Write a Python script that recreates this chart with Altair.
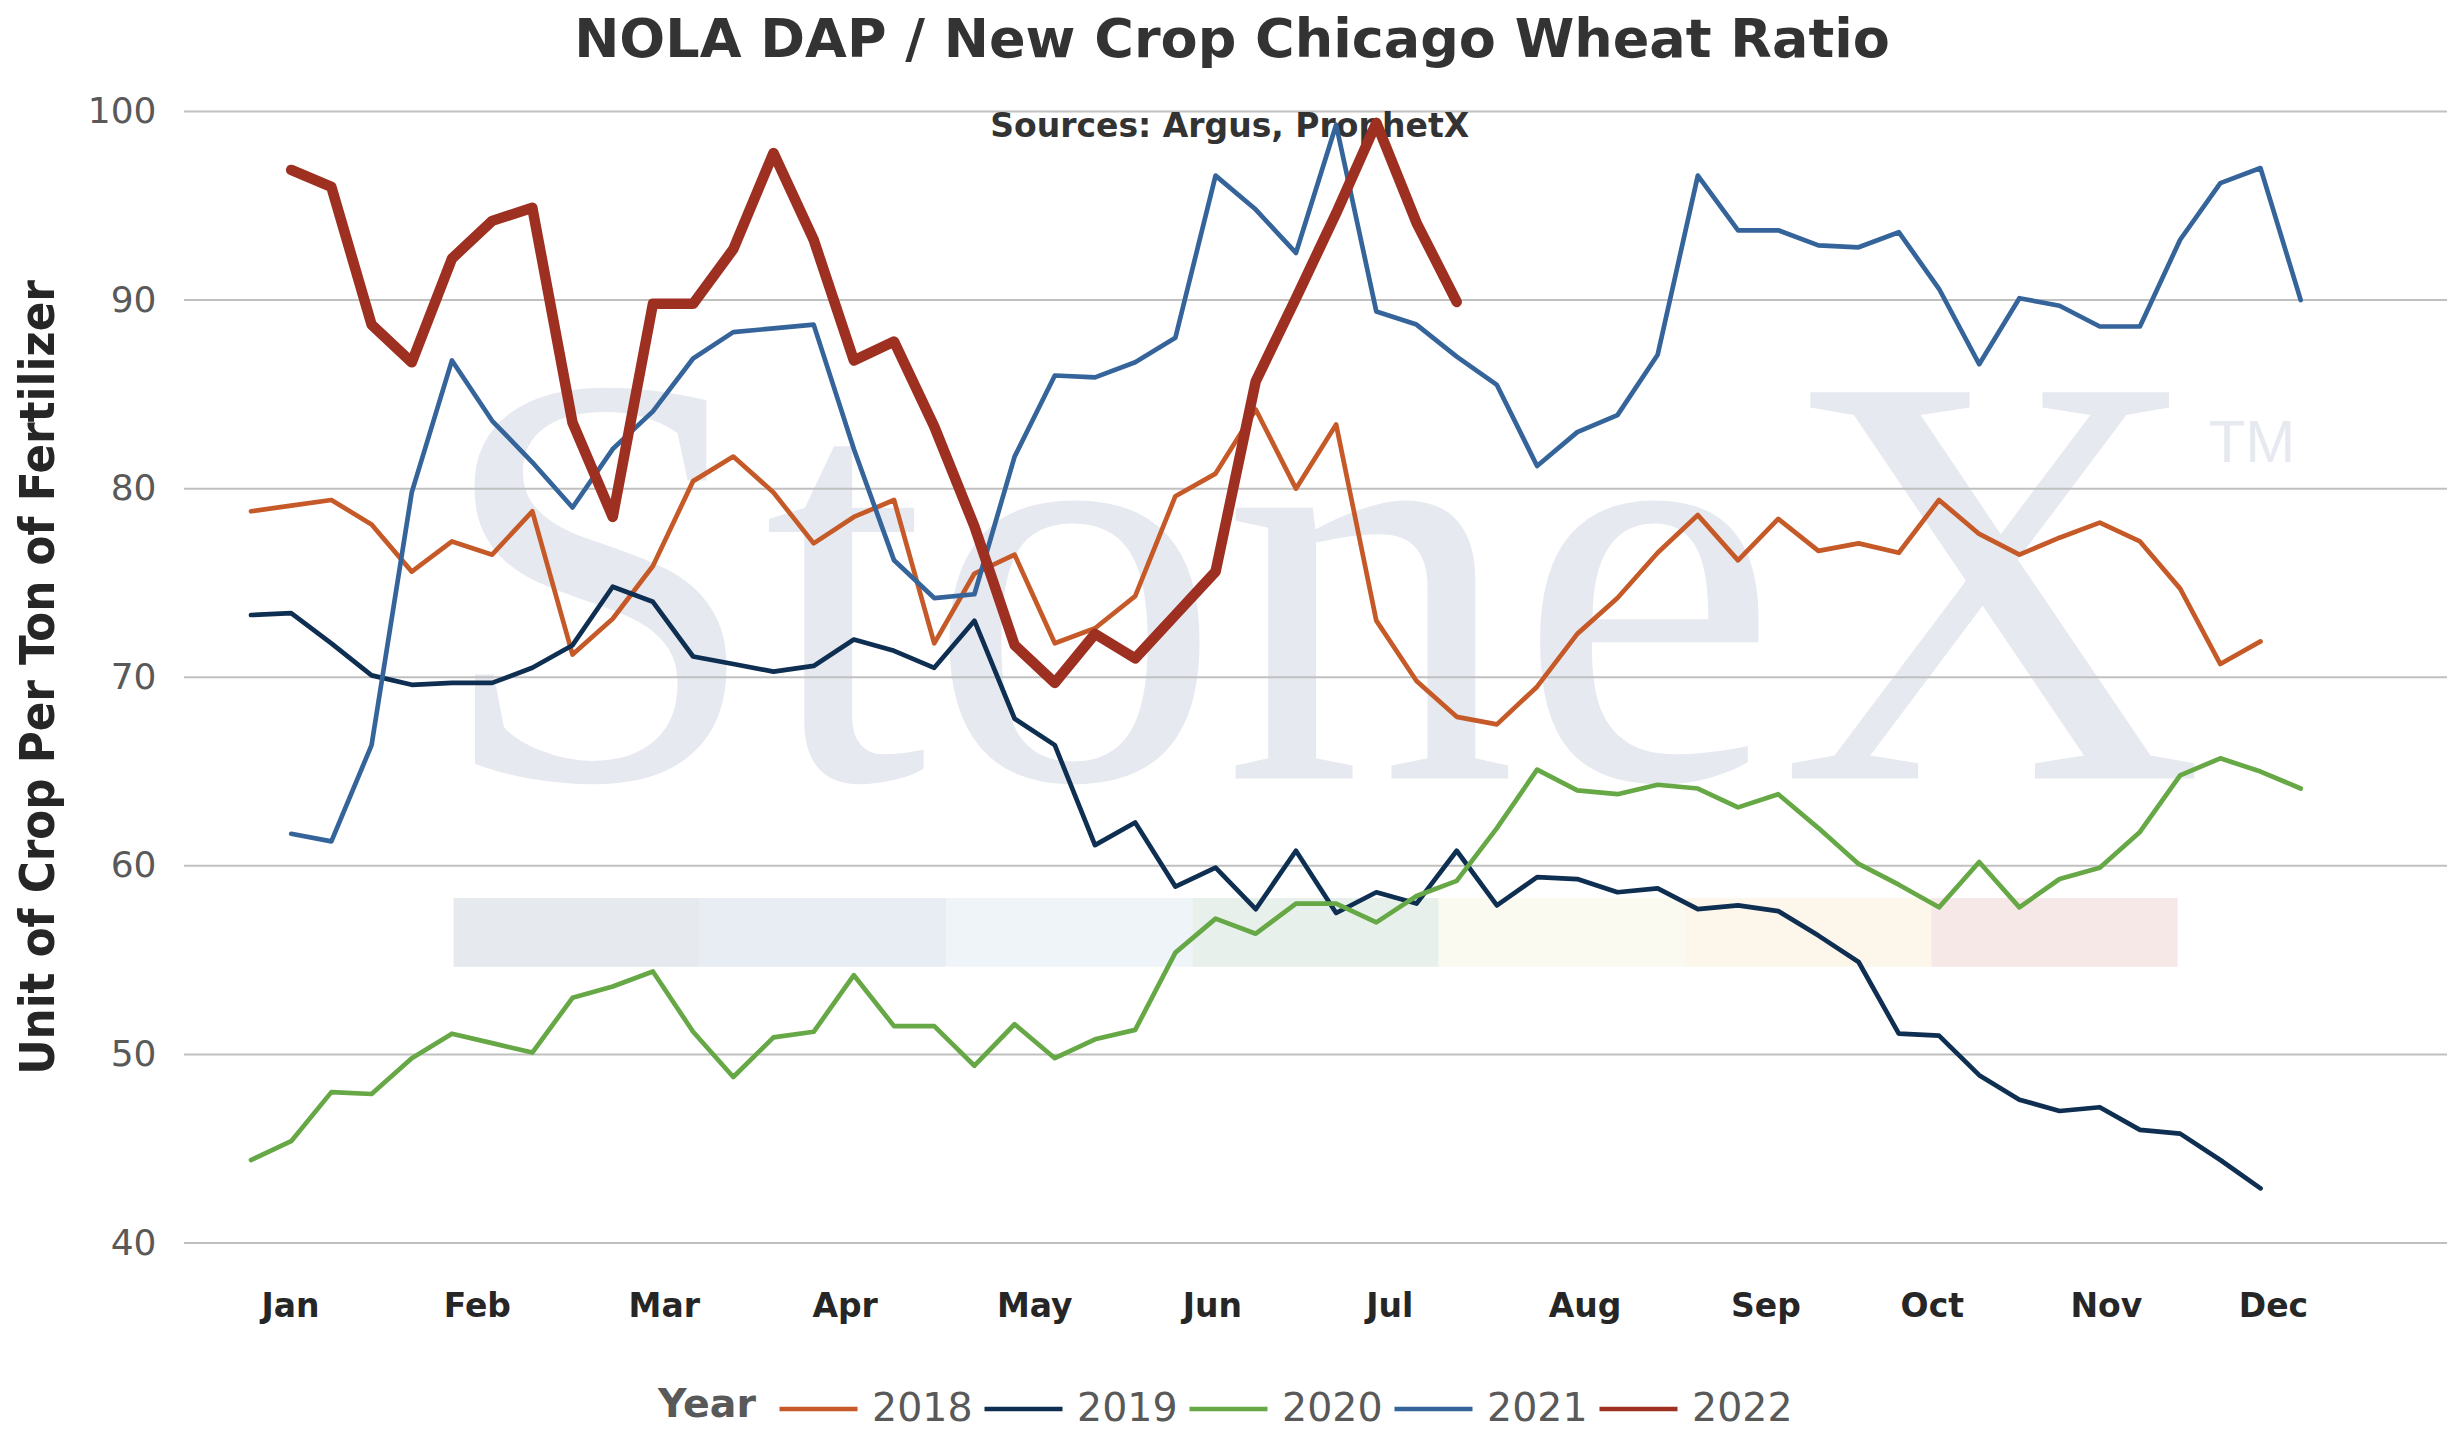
import json
import altair as alt
import pandas as pd

# ---------------- data ----------------
years = ["2018", "2019", "2020", "2021", "2022"]
colors = ["#C55A28", "#0E2F51", "#66A845", "#35649A", "#9E3022"]

# weekly ratio values, index 0..51 (None = no value)
v2018 = [78.8, 79.1, 79.4, 78.1, 75.6, 77.2, 76.5, 78.8, 71.2, 73.1,
         75.9, 80.4, 81.7, 79.8, 77.1, 78.5, 79.4, 71.8, 75.5, 76.5,
         71.8, 72.6, 74.3, 79.6, 80.8, 84.2, 80.0, 83.4, 73.0, 69.8,
         67.9, 67.5, 69.5, 72.3, 74.2, 76.6, 78.6, 76.2, 78.4, 76.7,
         77.1, 76.6, 79.4, 77.6, 76.5, 77.4, 78.2, 77.2, 74.7, 70.7,
         71.9, None]
v2019 = [73.3, 73.4, 71.8, 70.1, 69.6, 69.7, 69.7, 70.5, 71.7, 74.8,
         74.0, 71.1, 70.7, 70.3, 70.6, 72.0, 71.4, 70.5, 73.0, 67.8,
         66.4, 61.1, 62.3, 58.9, 59.9, 57.7, 60.8, 57.5, 58.6, 58.0,
         60.8, 57.9, 59.4, 59.3, 58.6, 58.8, 57.7, 57.9, 57.6, 56.3,
         54.9, 51.1, 51.0, 48.9, 47.6, 47.0, 47.2, 46.0, 45.8, 44.4,
         42.9, None]
v2020 = [44.4, 45.4, 48.0, 47.9, 49.8, 51.1, 50.6, 50.1, 53.0, 53.6,
         54.4, 51.2, 48.8, 50.9, 51.2, 54.2, 51.5, 51.5, 49.4, 51.6,
         49.8, 50.8, 51.3, 55.4, 57.2, 56.4, 58.0, 58.0, 57.0, 58.4,
         59.2, 62.0, 65.1, 64.0, 63.8, 64.3, 64.1, 63.1, 63.8, 62.0,
         60.1, 59.0, 57.8, 60.2, 57.8, 59.3, 59.9, 61.8, 64.8, 65.7,
         65.0, 64.1]
v2021 = [None, 61.7, 61.3, 66.4, 79.8, 86.8, 83.6, 81.4, 79.0, 82.1,
         84.1, 86.9, 88.3, 88.5, 88.7, 82.1, 76.2, 74.2, 74.4, 81.7,
         86.0, 85.9, 86.7, 88.0, 96.6, 94.8, 92.5, 99.3, 89.4, 88.7,
         87.0, 85.5, 81.2, 83.0, 83.9, 87.1, 96.6, 93.7, 93.7, 92.9,
         92.8, 93.6, 90.6, 86.6, 90.1, 89.7, 88.6, 88.6, 93.2, 96.2,
         97.0, 90.0]
v2022 = [None, 96.9, 96.0, 88.7, 86.7, 92.2, 94.2, 94.9, 83.5, 78.5,
         89.8, 89.8, 92.7, 97.8, 93.2, 86.8, 87.8, 83.3, 78.0, 71.7,
         69.7, 72.3, 71.0, 73.3, 75.6, 85.7, 90.1, 94.6, 99.4, 94.1,
         89.9]

series = {"2018": v2018, "2019": v2019, "2020": v2020, "2021": v2021, "2022": v2022}

month_labels = ["Jan", "Feb", "Mar", "Apr", "May", "Jun",
                "Jul", "Aug", "Sep", "Oct", "Nov", "Dec"]
month_pos = [0.97, 5.62, 10.27, 14.77, 19.49, 23.91,
             28.32, 33.18, 37.68, 41.82, 46.15, 50.31]
y_ticks = [40, 50, 60, 70, 80, 90, 100]

TITLE = "NOLA DAP / New Crop Chicago Wheat Ratio"
SOURCES = "Sources: Argus, ProphetX"
Y_TITLE = "Unit of Crop Per Ton of Fertilizer"
LEGEND_TITLE = "Year"

# watermark decoration (StoneX logo colour strip)
band_colors = ["#E6E9EE", "#E8EDF4", "#EFF4F8", "#E7F0EA",
               "#FAFAF0", "#FDF6EA", "#F7E8E8"]

# ---------------- build tables ----------------
rows = []
for yr in years:
    for i, v in enumerate(series[yr]):
        if v is not None:
            rows.append({"Week": i, "Ratio": v, "Year": yr})
df = pd.DataFrame(rows)
df_thin = df[df["Year"] != "2022"]
df_thick = df[df["Year"] == "2022"]

band_start, band_w = 5.04, 6.128
bands = pd.DataFrame({
    "x0": [band_start + band_w * k for k in range(len(band_colors))],
    "x1": [band_start + band_w * (k + 1) for k in range(len(band_colors))],
    "y0": [54.65] * len(band_colors),
    "y1": [58.30] * len(band_colors),
    "c": band_colors,
})
grid_df = pd.DataFrame({"v": y_ticks})

W, H = 2263, 1131.5
xscale = alt.Scale(domain=[-1.667, 54.64], nice=False, zero=False)
yscale = alt.Scale(domain=[40, 100], nice=False, zero=False)

label_expr = f"{json.dumps(month_labels)}[indexof({json.dumps(month_pos)}, datum.value)]"

x_axis = alt.Axis(values=month_pos, labelExpr=label_expr, title=None, grid=False,
                  domain=False, ticks=False, tickSize=0, labelPadding=63,
                  labelBaseline="middle", labelFont="DejaVu Sans",
                  labelFontWeight="bold", labelFontSize=33, labelColor="#262626")
y_axis = alt.Axis(values=y_ticks, title=Y_TITLE, grid=False, domain=False,
                  ticks=False, tickSize=0, labelPadding=28,
                  labelFont="DejaVu Sans", labelFontSize=36, labelColor="#595959",
                  titleFont="DejaVu Sans Condensed, Liberation Sans",
                  titleFontWeight="bold", titleFontSize=48.5, titleColor="#262626",
                  titleX=-146, titleY=565.5, titleAngle=-90, titleAlign="center",
                  titleBaseline="middle")

band_layer = alt.Chart(bands).mark_rect().encode(
    x=alt.X("x0:Q", scale=xscale, axis=x_axis),
    x2="x1:Q",
    y=alt.Y("y0:Q", scale=yscale, axis=y_axis),
    y2="y1:Q",
    color=alt.Color("c:N", scale=None),
)

wm = alt.Chart(pd.DataFrame({"t": ["StoneX"]})).mark_text(
    font="Liberation Serif", fontSize=590, color="#E6E9EF",
    align="center", baseline="alphabetic"
).encode(text="t:N", x=alt.value(1136), y=alt.value(667))

tm = alt.Chart(pd.DataFrame({"t": ["TM"]})).mark_text(
    font="Liberation Sans", fontSize=60, color="#E6E9EF",
    align="center", baseline="middle"
).encode(text="t:N", x=alt.value(2068), y=alt.value(332))

grid = alt.Chart(grid_df).mark_rule(color="#C0C0C0", strokeWidth=2).encode(
    y=alt.Y("v:Q", scale=yscale)
)

sources = alt.Chart(pd.DataFrame({"t": [SOURCES]})).mark_text(
    font="DejaVu Sans", fontWeight="bold", fontSize=33, color="#333333",
    align="center", baseline="alphabetic"
).encode(text="t:N", x=alt.value(1045.7), y=alt.value(25.8))

color_enc = alt.Color(
    "Year:N", scale=alt.Scale(domain=years, range=colors),
    legend=alt.Legend(
        orient="none", legendX=593, legendY=1256,
        direction="horizontal", title=None,
        labelFont="DejaVu Sans", labelFontSize=39.5,
        labelColor="#595959", symbolType="stroke",
        symbolSize=6084, symbolStrokeWidth=4.7,
        labelOffset=12, columnPadding=2))

lines_thin = alt.Chart(df_thin).mark_line(
    strokeJoin="round", strokeCap="round", strokeWidth=4.7
).encode(
    x=alt.X("Week:Q", scale=xscale),
    y=alt.Y("Ratio:Q", scale=yscale),
    color=color_enc,
    order=alt.Order("Week:Q"),
)
lines_thick = alt.Chart(df_thick).mark_line(
    strokeJoin="round", strokeCap="round", strokeWidth=10.5
).encode(
    x=alt.X("Week:Q", scale=xscale),
    y=alt.Y("Ratio:Q", scale=yscale),
    color=color_enc,
    order=alt.Order("Week:Q"),
)

legend_title = alt.Chart(pd.DataFrame({"t": [LEGEND_TITLE]})).mark_text(
    font="DejaVu Sans", fontWeight="bold", fontSize=39.5, color="#595959",
    align="left", baseline="middle"
).encode(text="t:N", x=alt.value(474), y=alt.value(1293))

title = alt.Chart(pd.DataFrame({"t": [TITLE]})).mark_text(
    font="DejaVu Sans", fontWeight="bold", fontSize=54, color="#333333",
    align="center", baseline="alphabetic"
).encode(text="t:N", x=alt.value(1048), y=alt.value(-54.2))

chart = alt.layer(band_layer, wm, tm, grid, sources, lines_thin, lines_thick,
                  legend_title, title).properties(
    width=W, height=H,
    autosize=alt.AutoSizeParams(type="none"),
    padding={"left": 176, "top": 103.5, "right": 4, "bottom": 205},
    background="white",
).configure_view(stroke=None)

chart.save("out.html", embed_options={"renderer": "svg", "actions": False})
